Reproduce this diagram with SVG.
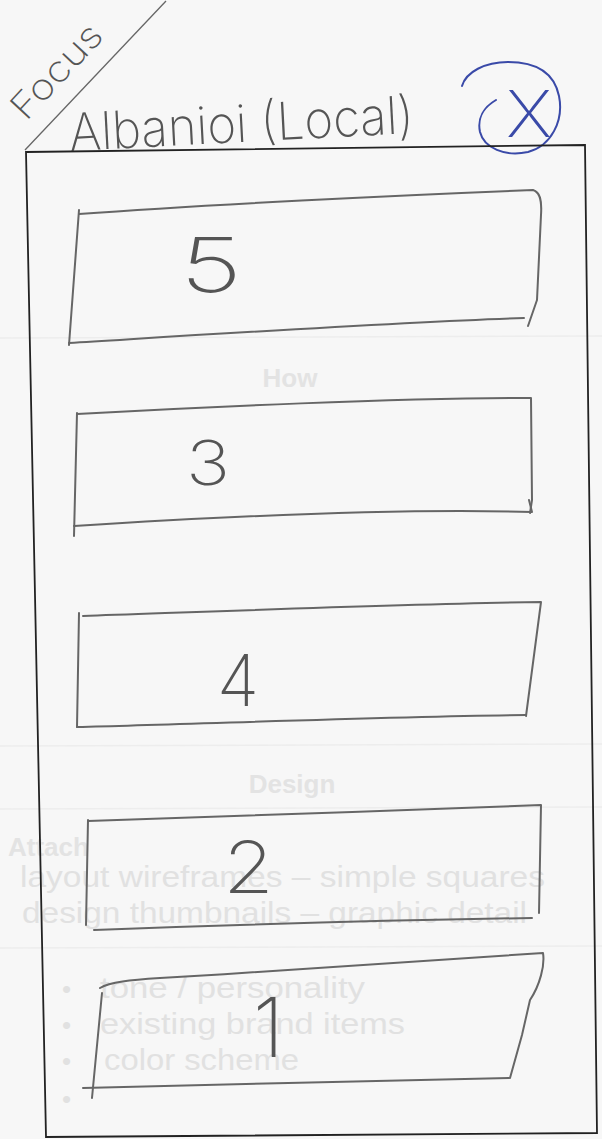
<svg xmlns="http://www.w3.org/2000/svg" width="602" height="1139" viewBox="0 0 602 1139">
<style>
.pen{fill:none;stroke:#666;stroke-width:2;stroke-linecap:round;stroke-linejoin:round}
.hand{font-family:Inter,"Open Sans","DejaVu Sans",sans-serif;font-weight:200;fill:#555}
.ghost{font-family:"Liberation Sans",Arial,sans-serif;fill:#e1e1e1}
.ghostb{font-family:"Liberation Sans",Arial,sans-serif;font-weight:bold;fill:#e3e3e3}
.rule{stroke:#ededed;stroke-width:1.5}
.blue{fill:none;stroke:#3a4aa8;stroke-width:2;stroke-linecap:round}
</style>
<rect width="602" height="1139" fill="#f7f7f7"/>
<g id="show-through">
<line class="rule" x1="0" y1="338" x2="602" y2="336"/>
<line class="rule" x1="0" y1="746" x2="602" y2="744"/>
<line class="rule" x1="0" y1="809" x2="602" y2="807"/>
<line class="rule" x1="0" y1="948" x2="602" y2="946"/>
<text class="ghostb" x="290" y="387" font-size="26" text-anchor="middle">How</text>
<text class="ghostb" x="292" y="793" font-size="26" text-anchor="middle">Design</text>
<text class="ghostb" x="8" y="856" font-size="26">Attach</text>
<text class="ghost" x="20" y="887" font-size="30" textLength="525" lengthAdjust="spacingAndGlyphs">layout wireframes – simple squares</text>
<text class="ghost" x="22" y="923" font-size="30" textLength="505" lengthAdjust="spacingAndGlyphs">design thumbnails – graphic detail</text>
<text class="ghost" x="62" y="998" font-size="26">•</text>
<text class="ghost" x="62" y="1034" font-size="26">•</text>
<text class="ghost" x="62" y="1070" font-size="26">•</text>
<text class="ghost" x="62" y="1108" font-size="26">•</text>
<text class="ghost" x="100" y="998" font-size="30" textLength="265" lengthAdjust="spacingAndGlyphs">tone / personality</text>
<text class="ghost" x="100" y="1034" font-size="30" textLength="305" lengthAdjust="spacingAndGlyphs">existing brand items</text>
<text class="ghost" x="104" y="1070" font-size="30" textLength="195" lengthAdjust="spacingAndGlyphs">color scheme</text>
</g>
<g id="connectors">
<path d="M25,150 L166,1" fill="none" stroke="#666" stroke-width="1.3"/>
</g>
<g id="focus-label">
<text class="hand" x="26" y="122" font-size="36" textLength="116" lengthAdjust="spacingAndGlyphs" transform="rotate(-47 26 122)">Focus</text>
</g>
<g id="title">
<text class="hand" x="70" y="151" font-size="52" textLength="345" lengthAdjust="spacingAndGlyphs" transform="rotate(-3 70 151)">Albanioi (Local)</text>
</g>
<g id="cancel-mark">
<path class="blue" d="M462,86 C466,72 485,62 508,62 C536,62 554,72 559,96 C564,121 551,146 528,152 C505,157 484,148 480,132 C477,118 484,107 496,100"/>
<text x="506" y="137" font-size="64" textLength="46" lengthAdjust="spacingAndGlyphs" style="font-family:Inter,'Open Sans','DejaVu Sans',sans-serif;font-weight:200;fill:#3a4aa8">X</text>
</g>
<g id="frame">
<path d="M26,152 L585,145 L597,1133 L46,1137 Z" fill="none" stroke="#222" stroke-width="1.8"/>
</g>
<g id="box-5">
<path class="pen" d="M79,214 C200,205 400,195 533,190 C540,192 542,200 541,215 L537,300 L528,326"/>
<path class="pen" d="M79,210 L69,345"/>
<path class="pen" d="M69,343 C200,335 400,322 524,318"/>
<text class="hand" x="180" y="292" font-size="76" textLength="62" lengthAdjust="spacingAndGlyphs">5</text>
</g>
<g id="box-3">
<path class="pen" d="M77,414 C200,407 400,398 531,398 L532,500 L530,513"/>
<path class="pen" d="M77,413 L74,536"/>
<path class="pen" d="M74,526 C200,518 400,508 532,512 L529,500"/>
<text class="hand" x="186" y="485" font-size="62" textLength="44" lengthAdjust="spacingAndGlyphs">3</text>
</g>
<g id="box-4">
<path class="pen" d="M83,616 C200,612 400,604 541,602 L526,716"/>
<path class="pen" d="M79,613 L77,727"/>
<path class="pen" d="M77,727 C200,724 400,716 526,715"/>
<text class="hand" x="217" y="706" font-size="72" textLength="42" lengthAdjust="spacingAndGlyphs">4</text>
</g>
<g id="box-2">
<path class="pen" d="M88,821 C200,818 400,810 541,805 L539,913"/>
<path class="pen" d="M88,820 L86,925"/>
<path class="pen" d="M94,930 C200,926 400,920 532,918"/>
<text class="hand" x="223" y="893" font-size="72" textLength="51" lengthAdjust="spacingAndGlyphs">2</text>
</g>
<g id="box-1">
<path class="pen" d="M100,988 C110,982 130,980 160,978 C300,970 450,958 543,953 C545,965 540,985 530,1000 L522,1035 L510,1078"/>
<path class="pen" d="M102,993 L92,1098"/>
<path class="pen" d="M83,1088 C200,1085 400,1080 509,1078"/>
<text class="hand" x="253" y="1057" font-size="82" textLength="31" lengthAdjust="spacingAndGlyphs">1</text>
</g>
</svg>
